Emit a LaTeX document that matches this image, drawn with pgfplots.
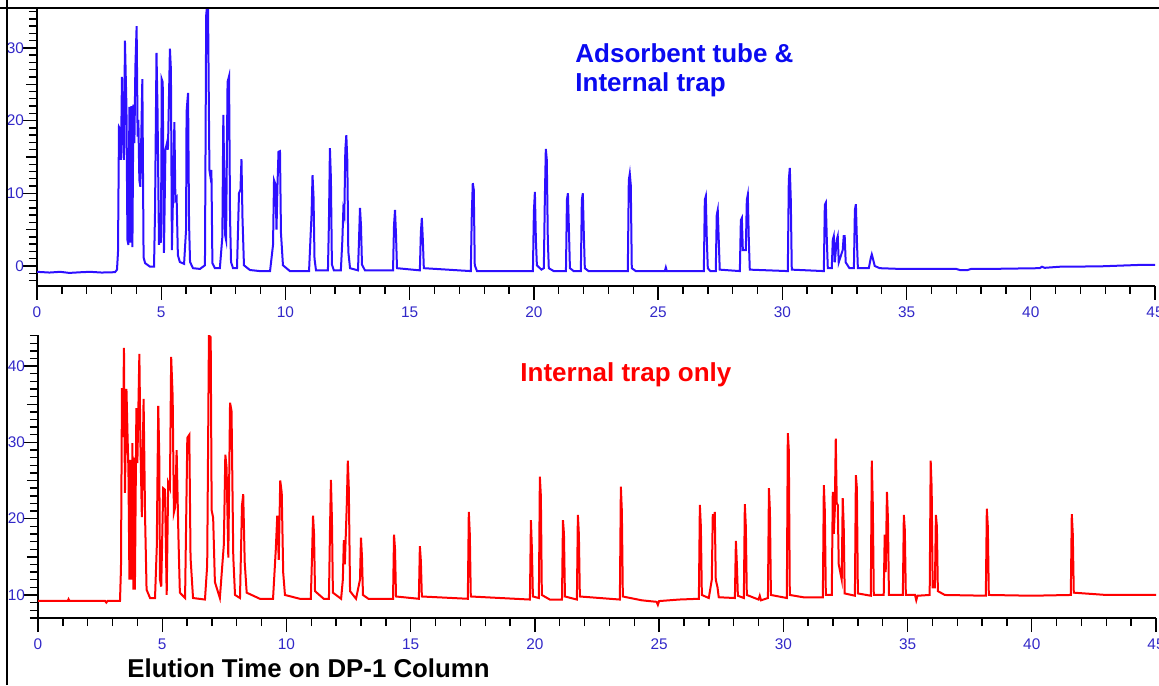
\documentclass[border=0pt]{standalone}
\usepackage{pgfplots}
\pgfplotsset{compat=1.18}
\usepackage{fontspec}
\setmainfont{Liberation Sans}
\definecolor{tb}{RGB}{45,15,255}
\definecolor{tr}{RGB}{255,0,0}
\definecolor{lbl}{RGB}{50,40,200}
\definecolor{ttl}{RGB}{10,10,240}
\pgfplotsset{chrom/.style={
  scale only axis, width=559pt,
  axis x line=bottom, axis y line=left,
  axis line style={-, line width=0.9pt, black},
  xmin=0, xmax=45,
  xtick={0,5,...,45}, minor xtick={0,1,...,45},
  tick align=outside,
  major tick length=7pt, minor tick length=4pt,
  every tick/.style={black, line width=0.7pt},
  tick label style={font=\fontsize{7.7}{9}\selectfont, text=lbl},
  yticklabel style={xshift=4pt},
  /pgf/number format/assume math mode=true,
  extra y tick labels={},
  extra y tick style={major tick length=5.5pt},
}}
\begin{document}
\begin{tikzpicture}
\begin{axis}[chrom, at={(18.5pt,199.5pt)}, anchor=south west, height=138.5pt,
  ymin=-2.75, ymax=35.35, ytick={0,10,20,30}, minor ytick={-2,-1,...,35},
  extra y ticks={5,15,25}]
\addplot[tb, line width=1pt] coordinates {
(0,-0.8)(0.5,-0.9)(0.93,-0.8)(1.3,-0.95)(1.8,-0.85)(2.13,-0.8)(2.6,-0.9)(3.14,-0.85)
(3.22,-0.5)(3.26,1.9)(3.30,19.1)(3.36,18.7)(3.38,14.6)(3.42,26.0)(3.46,19.0)(3.50,14.6)(3.54,31.0)(3.60,21.9)(3.64,3.6)(3.68,2.9)(3.72,21.9)(3.76,3.2)(3.80,22.0)(3.84,2.6)(3.88,22.2)(3.92,16.9)(3.96,27.4)(4.01,33.0)(4.05,17.8)(4.08,20.1)(4.12,11.8)(4.16,10.9)(4.24,25.7)(4.29,1.2)(4.35,0.4)(4.55,-0.1)(4.71,-0.1)(4.75,7.3)(4.81,29.3)(4.85,21.7)(4.91,2.9)(4.95,7.3)(4.99,3.2)(5.02,25.7)(5.06,25.3)(5.11,1.8)(5.17,16.0)(5.23,16.9)(5.27,16.0)(5.31,22.8)(5.35,29.9)(5.39,27.0)(5.43,2.2)(5.47,9.1)(5.53,19.8)(5.57,9.1)(5.62,9.4)(5.67,1.5)(5.75,0.55)(5.92,0.3)(6.00,5.0)(6.02,21.2)(6.08,23.8)(6.12,5.9)(6.16,0.55)(6.28,-0.3)(6.56,-0.4)(6.76,0.1)(6.81,34.5)(6.88,37)(6.94,13.2)(6.98,12.3)(7.02,13.2)(7.06,0.4)(7.16,-0.3)(7.36,-0.3)(7.46,4.0)(7.50,20.8)(7.57,4.3)(7.61,3.6)(7.67,25.3)(7.73,26.1)(7.77,6.7)(7.81,0.55)(7.89,-0.3)(8.05,-0.3)(8.13,10.0)(8.19,10.5)(8.23,14.7)(8.27,6.7)(8.33,0.1)(8.57,-0.55)(8.97,-0.7)(9.38,-0.7)(9.50,2.9)(9.54,11.8)(9.60,11.2)(9.64,5.0)(9.68,11.2)(9.72,15.7)(9.78,15.8)(9.82,4.5)(9.90,0.1)(10.18,-0.7)
(10.95,-0.7)(11.01,4)(11.05,7)(11.09,12.5)(11.13,9.5)(11.17,1)(11.23,-0.6)
(11.71,-0.6)(11.75,6)(11.79,16.2)(11.83,12)(11.87,0.2)(11.95,-0.6)
(12.23,-0.6)(12.29,3.5)(12.33,7.7)(12.37,7)(12.41,16)(12.45,18.0)(12.49,14.5)(12.53,2)(12.60,-0.3)
(12.92,-0.6)(12.96,3.5)(13.00,8.0)(13.04,5.6)(13.08,0.2)(13.2,-0.6)
(14.33,-0.6)(14.37,5.6)(14.41,7.7)(14.45,4.3)(14.49,-0.3)
(15.41,-0.6)(15.45,4.6)(15.49,6.6)(15.53,3.6)(15.57,-0.3)
(17.46,-0.7)(17.50,7)(17.54,11.4)(17.58,10.5)(17.62,0.1)(17.71,-0.7)
(19.96,-0.7)(20.00,7.5)(20.04,10.2)(20.08,3.6)(20.12,0.1)(20.30,-0.5)
(20.40,-0.3)(20.44,9.1)(20.48,16.1)(20.52,14.6)(20.56,3.6)(20.60,-0.3)(20.8,-0.7)
(21.29,-0.7)(21.33,9.1)(21.37,10.0)(21.41,5.0)(21.45,-0.3)(21.6,-0.7)
(21.89,-0.7)(21.93,9.1)(21.97,10.0)(22.01,4.3)(22.05,-0.3)(22.2,-0.7)
(23.78,-0.7)(23.82,11.8)(23.86,12.7)(23.90,11.1)(23.94,-0.3)(24.1,-0.7)
(25.27,-0.7)(25.31,-0.2)(25.35,-0.7)
(26.84,-0.7)(26.88,9.1)(26.92,9.6)(26.96,3.6)(27.00,-0.3)(27.1,-0.7)
(27.32,-0.7)(27.36,7.0)(27.40,7.7)(27.44,3.6)(27.48,-0.5)
(28.29,-0.7)(28.33,6.3)(28.37,6.6)(28.41,2.2)(28.53,2.2)(28.57,9.1)(28.61,9.8)(28.65,3.6)(28.69,-0.5)
(30.22,-0.7)(30.26,11.8)(30.30,13.5)(30.34,9.1)(30.38,-0.5)
(31.67,-0.7)(31.71,8.4)(31.75,8.7)(31.79,3.6)(31.83,-0.3)
(31.99,-0.3)(32.03,3.6)(32.07,4.1)(32.11,0.5)(32.19,3.6)(32.23,4.1)(32.27,0.5)(32.43,2.2)(32.47,4.1)(32.51,4.1)(32.55,0.5)(32.7,-0.3)
(32.88,-0.3)(32.92,7.7)(32.96,8.5)(33.00,3.6)(33.04,-0.3)
(33.48,-0.3)(33.56,1.1)(33.60,1.6)(33.64,1.1)(33.72,0.0)(33.92,-0.3)
(34.73,-0.4)(37.0,-0.4)(37.14,-0.55)(37.46,-0.55)(37.6,-0.4)(38.35,-0.4)(40.36,-0.3)(40.45,-0.1)(40.56,-0.25)(41.17,-0.1)(42.78,-0.05)(44.39,0.15)(45.2,0.15)
};
\end{axis}
\begin{axis}[chrom, at={(19pt,33.5pt)}, anchor=south west, height=141.5pt,
  ymin=6.98, ymax=44.08, ytick={10,20,30,40}, minor ytick={7,8,...,44},
  extra y ticks={15,25,35}]
\addplot[tr, line width=1pt] coordinates {
(0,9.21)(1.2,9.21)(1.23,9.45)(1.27,9.21)(2.7,9.21)(2.75,9.0)(2.8,9.21)(3.30,9.21)(3.34,13.5)(3.38,37.1)(3.42,30.7)(3.46,42.4)(3.50,23.4)(3.56,37.0)(3.60,31.4)(3.64,26.4)(3.68,12.0)(3.72,27.7)(3.76,12.0)(3.80,29.9)(3.84,10.7)(3.87,28.0)(3.90,10.7)(3.96,34.5)(4.00,27.3)(4.08,41.6)(4.12,30.3)(4.18,20.2)(4.25,35.7)(4.31,20.2)(4.37,10.7)(4.51,9.6)(4.71,9.6)(4.78,16.2)(4.84,34.8)(4.88,28.4)(4.91,12.0)(4.96,11.1)(5.04,24.0)(5.11,23.8)(5.18,10.0)(5.24,24.7)(5.31,24.0)(5.36,41.2)(5.42,36.0)(5.47,20.8)(5.52,21.5)(5.58,29.0)(5.65,17.9)(5.71,10.3)(5.92,9.6)(6.01,30.6)(6.09,31.0)(6.14,14.9)(6.24,9.6)(6.72,9.4)(6.81,13.9)(6.88,44.0)(6.95,43.8)(6.99,21.1)(7.05,20.1)(7.12,11.7)(7.32,9.6)(7.48,16.6)(7.54,28.4)(7.59,26.7)(7.66,14.9)(7.73,35.2)(7.79,34.1)(7.86,15.0)(7.93,10.0)(8.13,9.6)(8.21,21.7)(8.26,23.2)(8.32,14.3)(8.40,10.3)(8.93,9.5)(9.46,9.5)(9.57,15.9)(9.63,20.4)(9.69,14.6)(9.75,25.0)(9.81,23.4)(9.87,12.9)(9.94,10.0)(10.54,9.5)
(10.98,9.5)(11.03,15)(11.07,20.4)(11.11,18)(11.15,10.5)(11.5,9.5)
(11.71,9.5)(11.75,18)(11.79,25.1)(11.83,20)(11.87,10.3)(12.2,9.5)
(12.27,12)(12.31,17.2)(12.35,14)(12.43,22)(12.47,27.6)(12.51,24)(12.56,10.5)(12.8,9.5)
(12.96,12)(13.00,17.5)(13.04,15)(13.08,10)(13.3,9.5)
(14.29,9.5)(14.33,17.9)(14.37,16)(14.41,9.8)
(15.33,9.5)(15.37,16.4)(15.41,14.5)(15.45,9.8)
(17.30,9.5)(17.34,20.9)(17.38,18)(17.42,9.8)
(19.80,9.4)(19.84,19.8)(19.88,16)(19.92,9.8)(20.16,9.6)(20.20,25.5)(20.24,23)(20.28,10)(20.6,9.4)
(21.09,9.4)(21.13,19.8)(21.17,18)(21.21,9.8)(21.69,9.4)(21.73,20.5)(21.77,18)(21.81,9.8)
(23.42,9.4)(23.46,24.2)(23.50,21)(23.54,9.8)(24.3,9.3)(24.9,9.1)(24.95,8.7)(25.0,9.2)(25.8,9.4)
(26.60,9.5)(26.64,21.8)(26.68,19)(26.72,10)(27.0,9.6)(27.12,12)(27.16,20.6)(27.20,18.5)(27.24,20.9)(27.28,12)(27.35,11)(27.40,9.7)
(28.05,9.6)(28.09,17.1)(28.13,14)(28.17,9.9)(28.41,9.6)(28.45,21.9)(28.49,19)(28.53,10)
(29.0,9.4)(29.05,9.9)(29.1,9.3)(29.38,9.6)(29.42,24.0)(29.46,21)(29.50,10)
(30.14,9.6)(30.18,31.2)(30.22,29)(30.26,10)
(30.8,9.7)(31.59,9.7)(31.63,24.4)(31.67,21)(31.71,10)(31.95,10)(31.99,23.5)(32.03,18)(32.07,21)(32.11,30.5)(32.15,22)(32.19,21.8)(32.23,14)(32.35,12)(32.39,22.7)(32.43,19)(32.47,10.2)
(32.88,9.9)(32.92,25.7)(32.96,24)(33.00,10.2)
(33.52,9.9)(33.56,27.6)(33.60,22)(33.64,10)
(34.04,10)(34.08,17.9)(34.12,13)(34.17,23.5)(34.21,20)(34.25,10)
(34.81,10)(34.85,20.5)(34.89,18.5)(34.93,10)
(35.3,10)(35.35,9.3)(35.4,9.9)(35.89,10)(35.93,27.6)(35.97,24)(36.01,11)(36.10,11)(36.14,20.5)(36.18,19)(36.22,10.5)(36.5,10)
(38.15,9.9)(38.19,21.3)(38.23,19)(38.27,10)(40.0,9.9)
(41.57,10)(41.61,20.6)(41.65,18)(41.69,10.3)(43,10.0)(45.2,10.0)
};
\end{axis}
\node[anchor=base west, inner sep=0pt, text=ttl, font=\bfseries\fontsize{13}{15}\selectfont] at (287.5pt,311pt) {Adsorbent tube \&};
\node[anchor=base west, inner sep=0pt, text=ttl, font=\bfseries\fontsize{13}{15}\selectfont] at (287.5pt,296.5pt) {Internal trap};
\node[anchor=base west, inner sep=0pt, text=tr, font=\bfseries\fontsize{13}{15}\selectfont] at (260pt,151.5pt) {Internal trap only};
\node[anchor=base west, inner sep=0pt, text=black, font=\bfseries\fontsize{12.9}{15}\selectfont] at (63.5pt,4pt) {Elution Time on DP-1 Column};
\fill[white] (-20pt,-20pt) rectangle (3pt,360pt);
\fill[white] (-20pt,339.5pt) rectangle (600pt,360pt);
\fill[white] (579.5pt,-20pt) rectangle (600pt,360pt);
\draw[black, line width=1.1pt] (3.5pt,0pt) -- (3.5pt,342.5pt);
\draw[black, line width=1.3pt] (0pt,338.5pt) -- (579.5pt,338.5pt);
\pgfresetboundingbox
\path[use as bounding box] (0pt,0pt) rectangle (579.5pt,342.5pt);
\end{tikzpicture}
\end{document}
